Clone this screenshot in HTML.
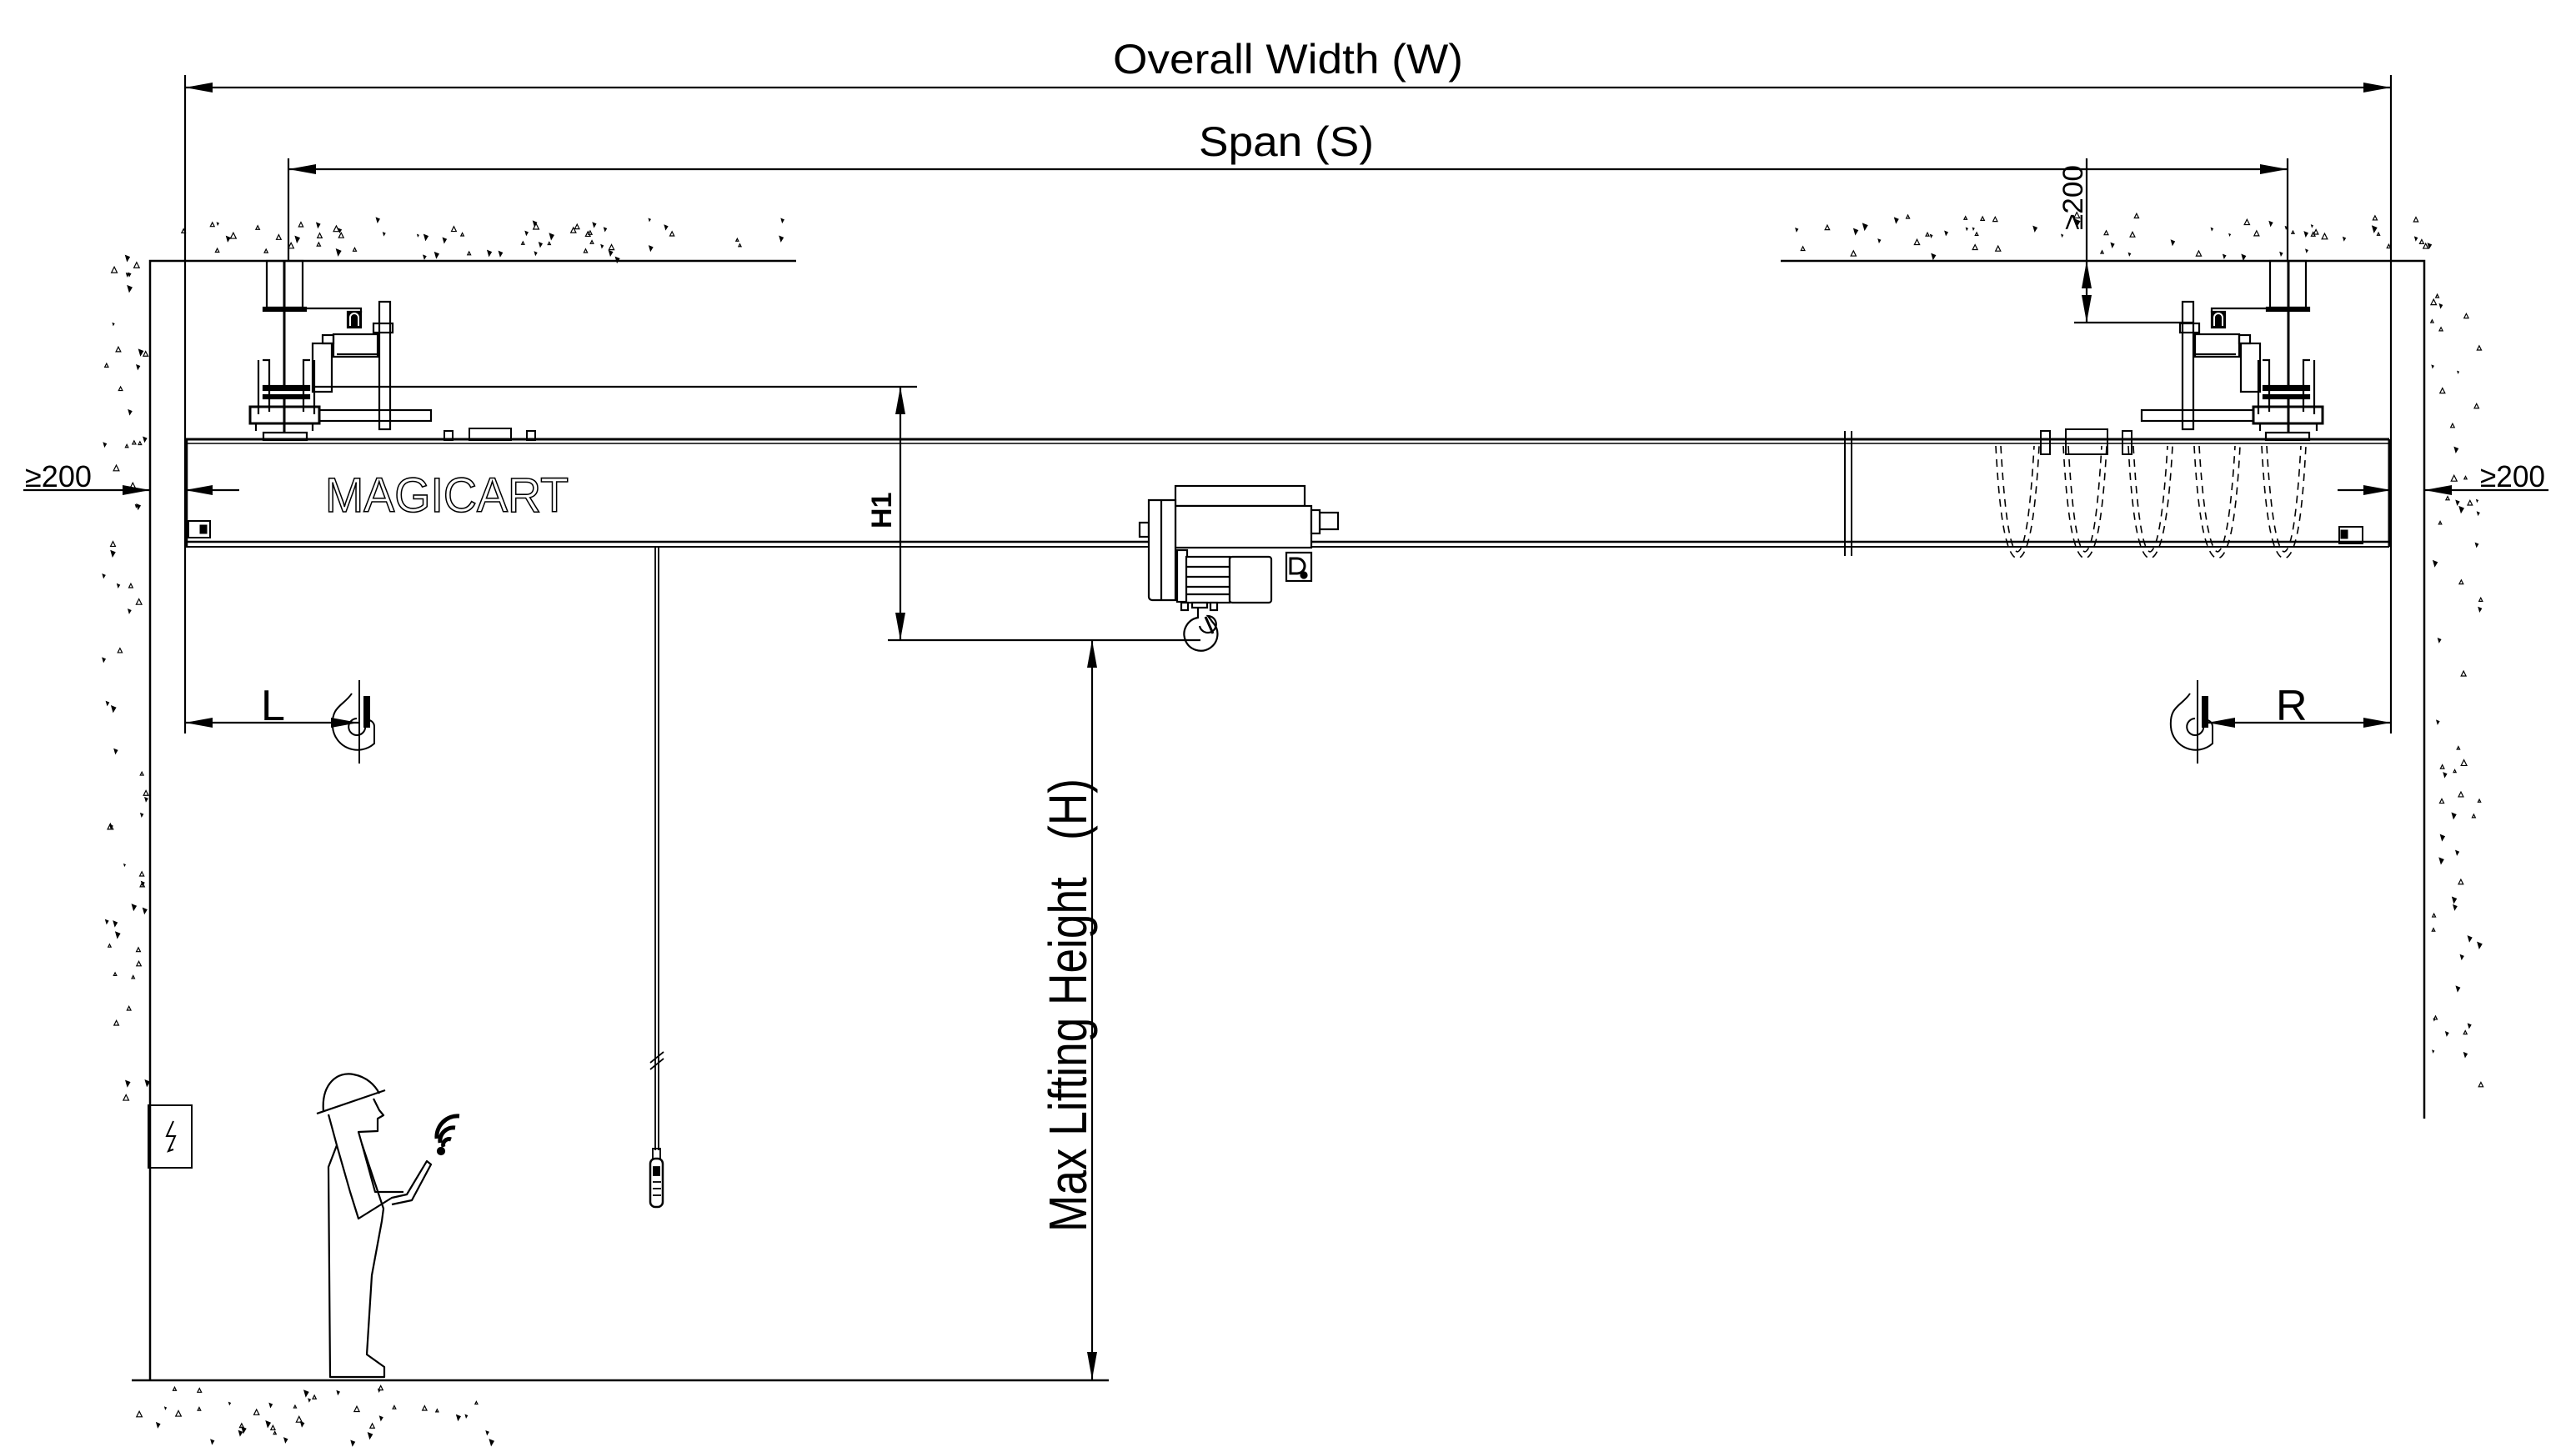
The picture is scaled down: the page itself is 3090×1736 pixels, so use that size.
<!DOCTYPE html>
<html><head><meta charset="utf-8"><style>
html,body{margin:0;padding:0;background:#fff;}
svg{display:block;}
text{font-family:"Liberation Sans",sans-serif;fill:#000;}
</style></head><body>
<svg id="s" width="3090" height="1736" viewBox="0 0 3090 1736" xmlns="http://www.w3.org/2000/svg">
<defs>
<marker id="a" markerUnits="userSpaceOnUse" markerWidth="34" markerHeight="14" refX="33" refY="6" orient="auto-start-reverse"><path d="M0,0 L33,6 L0,12 z" fill="#000"/></marker>
</defs>
<g id="spk" fill="#000"></g>
<g stroke="#000" stroke-width="2.2" fill="none">
<line x1="222" y1="105" x2="2868" y2="105" marker-start="url(#a)" marker-end="url(#a)"/>
<line x1="346" y1="203" x2="2744" y2="203" marker-start="url(#a)" marker-end="url(#a)"/>
<line x1="222" y1="90" x2="222" y2="880"/>
<line x1="2868" y1="90" x2="2868" y2="880"/>
<line x1="346" y1="190" x2="346" y2="313"/>
<line x1="2744" y1="190" x2="2744" y2="313"/>
<polyline points="955,313 180,313 180,1656" stroke-width="2.5"/>
<polyline points="2136,313 2908,313 2908,1342" stroke-width="2.5"/>
<line x1="158" y1="1656" x2="1330" y2="1656" stroke-width="2.5"/>
<line x1="375" y1="464" x2="1100" y2="464"/>
<line x1="1065" y1="768" x2="1440" y2="768"/>
<line x1="1080" y1="464" x2="1080" y2="768" marker-start="url(#a)" marker-end="url(#a)"/>
<line x1="1310" y1="768" x2="1310" y2="1655" marker-start="url(#a)" marker-end="url(#a)"/>
<line x1="28" y1="588" x2="180" y2="588" marker-end="url(#a)"/>
<line x1="287" y1="588" x2="222" y2="588" marker-end="url(#a)"/>
<line x1="3057" y1="588" x2="2908" y2="588" marker-end="url(#a)"/>
<line x1="2804" y1="588" x2="2868" y2="588" marker-end="url(#a)"/>
<line x1="2503" y1="190" x2="2503" y2="313"/>
<line x1="2503" y1="313" x2="2503" y2="387" marker-start="url(#a)" marker-end="url(#a)"/>
<line x1="2488" y1="387" x2="2632" y2="387"/>
<line x1="222" y1="867" x2="430" y2="867" marker-start="url(#a)" marker-end="url(#a)"/>
<line x1="2648" y1="867" x2="2868" y2="867" marker-start="url(#a)" marker-end="url(#a)"/>
</g>

<g stroke="#000" fill="none">
<line x1="222" y1="527" x2="2866" y2="527" stroke-width="3"/>
<line x1="222" y1="532" x2="2866" y2="532" stroke-width="1.5"/>
<line x1="222" y1="650" x2="2866" y2="650" stroke-width="2.5"/>
<line x1="222" y1="656" x2="2866" y2="656" stroke-width="2"/>
<line x1="224" y1="527" x2="224" y2="656" stroke-width="2.5"/>
<line x1="2866" y1="527" x2="2866" y2="656" stroke-width="3"/>
<line x1="2213" y1="517" x2="2213" y2="667" stroke-width="2"/>
<line x1="2221" y1="517" x2="2221" y2="667" stroke-width="2"/>
<rect x="226" y="625" width="26" height="20" stroke-width="2"/>
<rect x="240" y="630" width="8" height="10" fill="#000"/>
<rect x="2806" y="632" width="28" height="20" stroke-width="2"/>
<rect x="2808" y="636" width="8" height="10" fill="#000"/>
<rect x="533" y="517" width="10" height="11" stroke-width="2"/>
<rect x="563" y="514" width="50" height="14" stroke-width="2"/>
<rect x="632" y="517" width="10" height="11" stroke-width="2"/>
<rect x="2448" y="517" width="11" height="28" stroke-width="2"/>
<rect x="2478" y="515" width="50" height="30" stroke-width="2"/>
<rect x="2546" y="517" width="11" height="28" stroke-width="2"/>
</g>
<text x="390" y="614" font-size="58" fill="none" stroke="#000" stroke-width="1.6" style="fill:none" textLength="292" lengthAdjust="spacingAndGlyphs">MAGICART</text>

<g stroke="#000" stroke-width="1.6" fill="none" stroke-dasharray="9,7">
<path d="M2394,535 C2398,610 2405,668 2420,670 C2435,668 2442,610 2446,535"/>
<path d="M2400,535 C2404,605 2410,660 2420,662 C2430,660 2436,605 2440,535"/>
<path d="M2475,535 C2479,610 2486,668 2501,670 C2516,668 2523,610 2527,535"/>
<path d="M2481,535 C2485,605 2491,660 2501,662 C2511,660 2517,605 2521,535"/>
<path d="M2553,535 C2557,610 2564,668 2579,670 C2594,668 2602,610 2606,535"/>
<path d="M2559,535 C2563,605 2569,660 2579,662 C2589,660 2596,605 2600,535"/>
<path d="M2632,535 C2636,610 2644,668 2660,670 C2676,668 2683,610 2687,535"/>
<path d="M2638,535 C2642,605 2650,660 2660,662 C2670,660 2677,605 2681,535"/>
<path d="M2713,535 C2717,610 2724,668 2740,670 C2756,668 2762,610 2766,535"/>
<path d="M2719,535 C2723,605 2730,660 2740,662 C2750,660 2756,605 2760,535"/>
</g>

<g id="ec" stroke="#000" stroke-width="2.2" fill="none">
<rect x="320" y="313" width="43" height="56"/>
<rect x="316" y="369" width="51" height="4" fill="#000"/>
<polyline points="363,370 433,370 433,375"/>
<rect x="417" y="374" width="16" height="19" fill="#000"/>
<path d="M420,391 v-10 a5,5 0 0 1 10,0 v10" stroke="#fff" stroke-width="2"/>
<line x1="341" y1="313" x2="341" y2="465" stroke-width="3"/>
<rect x="455" y="362" width="13" height="153"/>
<rect x="448" y="388" width="23" height="11"/>
<rect x="400" y="401" width="53" height="27"/>
<line x1="404" y1="425" x2="452" y2="425"/>
<rect x="387" y="402" width="13" height="10"/>
<rect x="375" y="412" width="23" height="58"/>
<path d="M310,432 v65 M315,432 h8 v62 M372,432 h-8 v62 M377,432 v65"/>
<rect x="316" y="463" width="55" height="5" fill="#000"/>
<rect x="316" y="474" width="55" height="4" fill="#000"/>
<rect x="300" y="488" width="83" height="20" stroke-width="3"/>
<rect x="383" y="492" width="134" height="13"/>
<line x1="341" y1="478" x2="341" y2="519" stroke-width="3"/>
<line x1="307" y1="508" x2="307" y2="517"/>
<line x1="375" y1="508" x2="375" y2="517"/>
<rect x="316" y="519" width="52" height="9"/>
</g>
<use href="#ec" transform="translate(3086,0) scale(-1,1)"/>

<g stroke="#000" stroke-width="2.2" fill="#fff">
<rect x="1410" y="583" width="155" height="24"/>
<rect x="1410" y="607" width="163" height="50"/>
<rect x="1367" y="627" width="11" height="17"/>
<path d="M1378,600 h32 v120 h-28 a4,4 0 0 1 -4,-4 z"/>
<line x1="1393" y1="600" x2="1393" y2="720"/>
<rect x="1583" y="615" width="22" height="20"/>
<rect x="1573" y="612" width="10" height="28"/>
<rect x="1412" y="660" width="12" height="62"/>
<rect x="1423" y="668" width="52" height="55"/>
<line x1="1423" y1="680" x2="1475" y2="680"/><line x1="1423" y1="692" x2="1475" y2="692"/><line x1="1423" y1="704" x2="1475" y2="704"/><line x1="1423" y1="713" x2="1475" y2="713"/>
<rect x="1475" y="668" width="50" height="55" rx="3"/>
<rect x="1543" y="663" width="30" height="34"/>
<path d="M1548,670 h8 a9,9 0 0 1 0,18 h-8 z" stroke-width="3"/>
<circle cx="1564" cy="690" r="3.5" fill="#000"/>
<rect x="1417" y="723" width="8" height="9"/><rect x="1452" y="723" width="8" height="9"/>
<rect x="1430" y="723" width="18" height="6"/>
<path d="M1437,729 v12 a20,20 0 1 0 18,6 l-6,-8 a10,10 0 1 1 -10,12" fill="none"/>
</g>
<line x1="1446" y1="740" x2="1455" y2="760" stroke="#000" stroke-width="3"/>

<g id="hk" stroke="#000" stroke-width="2" fill="none">
<line x1="431" y1="816" x2="431" y2="916"/>
<path d="M422,832 c-10,15 -25,15 -23,40 a30,30 0 0 0 50,20 v-20 a8,8 0 0 0 -10,-8"/>
<path d="M438,835 v35 a10,10 0 1 1 -10,-8"/>
<rect x="437" y="836" width="6" height="36" fill="#000"/>
</g>
<use href="#hk" transform="translate(2205,0)"/>

<g stroke="#000" stroke-width="1.8" fill="none">
<line x1="786" y1="656" x2="786" y2="1380"/><line x1="790" y1="656" x2="790" y2="1380"/>
<line x1="780" y1="1275" x2="796" y2="1262"/><line x1="780" y1="1283" x2="796" y2="1270"/>
<rect x="783" y="1378" width="9" height="12"/>
<rect x="780" y="1390" width="15" height="58" rx="6" stroke-width="2.5"/>
<rect x="784" y="1400" width="7" height="10" fill="#000"/>
<line x1="783" y1="1418" x2="793" y2="1418"/><line x1="783" y1="1426" x2="793" y2="1426"/><line x1="783" y1="1434" x2="793" y2="1434"/>
</g>

<g stroke="#000" stroke-width="2" fill="none">
<rect x="178" y="1326" width="52" height="75"/>
<path d="M208,1345 l-8,18 h10 l-8,18 M204,1377 l-2,4 l6,-2"/>
</g>

<g stroke="#000" stroke-width="2.2" fill="none" stroke-linejoin="round">
<path d="M380,1336 L462,1308 M388,1334 C385,1300 405,1285 424,1289 C440,1292 450,1302 455,1312"/>
<path d="M448,1318 L455,1332 L460,1338 L453,1342 L453,1357 L430,1358 L434,1372 L460,1450 L458,1465 L446,1530 L440,1625 L461,1640 L461,1652 L396,1652 L394,1400 L404,1374 L394,1337"/>
<path d="M404,1374 L420,1430 L430,1462 L470,1437 L488,1433 L512,1393 L517,1397 L494,1440 L470,1445"/>
<path d="M434,1372 L450,1430 L484,1430"/>
<path d="M532,1376 a7,7 0 0 1 9,-9 M528,1371 a16,16 0 0 1 18,-18 M524,1366 a25,25 0 0 1 27,-27" stroke-width="5"/>
<circle cx="529" cy="1381" r="4" fill="#000"/>
</g>

<text x="1335" y="88" font-size="50" textLength="420" lengthAdjust="spacingAndGlyphs">Overall Width (W)</text>
<text x="1438" y="187" font-size="50" textLength="210" lengthAdjust="spacingAndGlyphs">Span (S)</text>
<text x="30" y="584" font-size="36" textLength="80" lengthAdjust="spacingAndGlyphs">≥200</text>
<text x="2975" y="584" font-size="36" textLength="78" lengthAdjust="spacingAndGlyphs">≥200</text>
<text x="313" y="864" font-size="52">L</text>
<text x="2730" y="864" font-size="52">R</text>
<text transform="translate(2498,276) rotate(-90)" font-size="34" textLength="78" lengthAdjust="spacingAndGlyphs">≥200</text>
<text transform="translate(1069,634) rotate(-90)" font-size="34" font-weight="bold">H1</text>
<text transform="translate(1303,1478) rotate(-90)" font-size="64" textLength="544" lengthAdjust="spacingAndGlyphs" xml:space="preserve">Max Lifting Height   (H)</text>
</svg>
<script>
(function(){
var g=document.getElementById('spk');var s=12345;
function r(){s=(s*1103515245+12345)%2147483648;return s/2147483648;}
function area(x0,x1,y0,y1,n){for(var i=0;i<n;i++){var x=x0+r()*(x1-x0),y=y0+r()*(y1-y0),k=3+r()*4;
var p=document.createElementNS('http://www.w3.org/2000/svg','path');
if(r()<0.5){p.setAttribute('d','M'+x+','+y+' l'+k+','+(k*0.4)+' l'+(-k*0.6)+','+k+' z');p.setAttribute('fill','#000');}
else{p.setAttribute('d','M'+x+','+y+' l'+(k*0.5)+','+(-k)+' l'+(k*0.5)+','+k+' z');p.setAttribute('fill','none');p.setAttribute('stroke','#000');p.setAttribute('stroke-width','1.2');}
g.appendChild(p);}}
area(185,955,260,308,60);area(2140,2925,260,308,60);
area(122,174,300,1330,60);area(2915,2975,320,1345,60);
area(160,600,1662,1730,40);
})();
</script>
</body></html>
